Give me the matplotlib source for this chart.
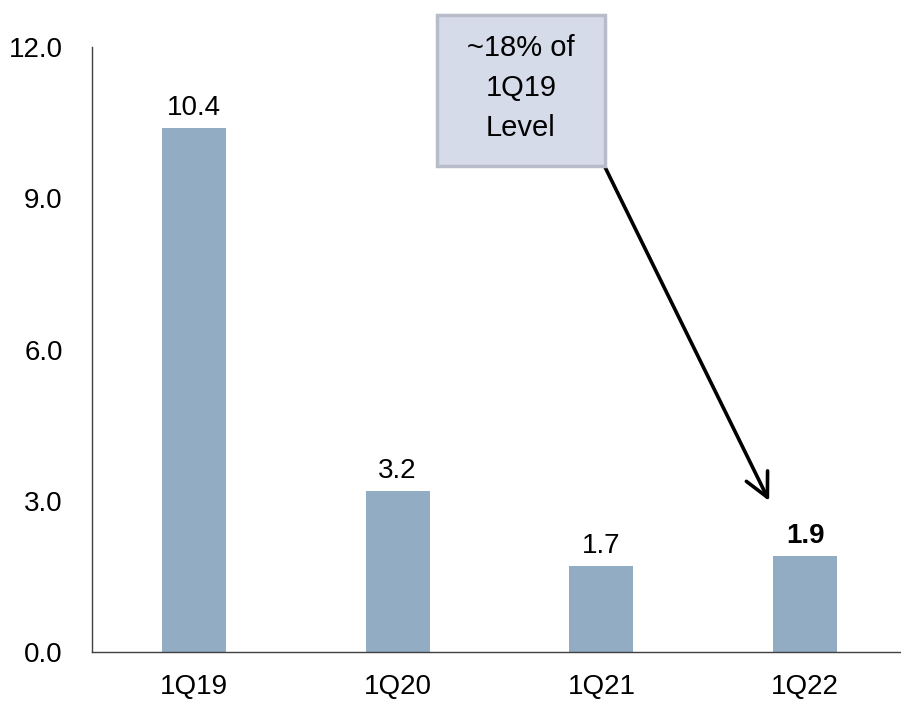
import matplotlib
matplotlib.use("Agg")
import matplotlib.pyplot as plt
from matplotlib.patches import Rectangle

categories = ["1Q19", "1Q20", "1Q21", "1Q22"]
values = [10.4, 3.2, 1.7, 1.9]
value_labels = ["10.4", "3.2", "1.7", "1.9"]
yticks = [0.0, 3.0, 6.0, 9.0, 12.0]
ytick_labels = ["0.0", "3.0", "6.0", "9.0", "12.0"]
note_text = "~18% of\n1Q19\nLevel"

plt.rcParams['font.family'] = ['Liberation Sans', 'DejaVu Sans']

fig = plt.figure(figsize=(9.01, 7.04), dpi=100)
ax = fig.add_axes([92/901, 1-652/704, 815/901, 605/704])

x = list(range(len(categories)))
ax.bar(x, values, width=0.314, color="#92acc4", zorder=2)
ax.set_xlim(-0.5, 3.5)
ax.set_ylim(0, 12)

for i, (v, lab) in enumerate(zip(values, value_labels)):
    ax.annotate(lab, (i, v), xytext=(0, 5), textcoords="offset points",
                ha="center", va="bottom", fontsize=20,
                fontweight=("bold" if i == len(values)-1 else "normal"))

ax.set_yticks(yticks)
ax.set_yticklabels(ytick_labels, fontsize=20)
ax.set_xticks(x)
ax.set_xticklabels(categories, fontsize=20)
ax.tick_params(axis="y", length=0, pad=21)
ax.tick_params(axis="x", length=0, pad=16)

for s in ["top", "right"]:
    ax.spines[s].set_visible(False)
ax.spines["left"].set_color("#404040")
ax.spines["bottom"].set_color("#404040")
ax.spines["left"].set_linewidth(1.0)
ax.spines["bottom"].set_linewidth(1.0)

# annotation box
fig.patches.append(Rectangle((437/901, 1-166/704), 168/901, 151/704,
                             transform=fig.transFigure, facecolor="#d6dbe9",
                             edgecolor="#b8bcc8", linewidth=2.5, zorder=3))
fig.text(521/901, 1-88/704, note_text, ha="center", va="center",
         fontsize=21, linespacing=1.55, zorder=4)

# arrow from box corner to 1Q22 bar
ax.annotate("", xy=((770-194)/204, (652-501)/50.4),
            xytext=((605-194)/204, (652-166)/50.4),
            arrowprops=dict(arrowstyle="->,head_length=1.7,head_width=0.85",
                            color="black", lw=2.6, shrinkA=0, shrinkB=0),
            annotation_clip=False)

fig.savefig("out.png", dpi=100)
